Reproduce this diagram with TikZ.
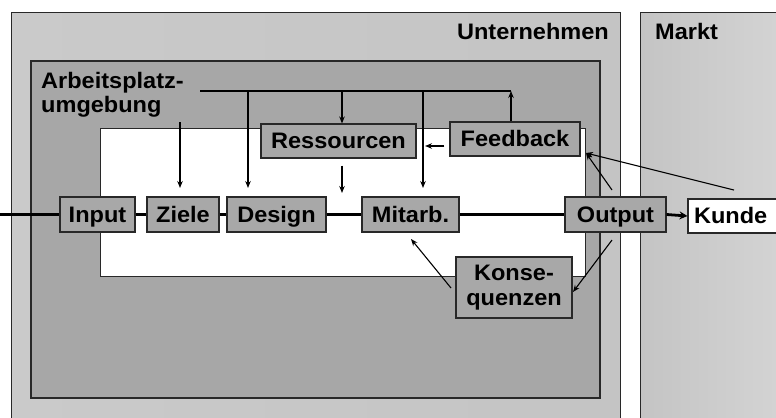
\documentclass[tikz,border=0pt]{standalone}
\usepackage{fontspec}
\setmainfont{Liberation Sans}[FakeStretch=1.05]
\usetikzlibrary{arrows.meta,calc}
\definecolor{outergray}{RGB}{202,202,202}
\definecolor{outergrayB}{RGB}{196,196,196}
\definecolor{midgray}{RGB}{167,167,167}
\definecolor{boxgray}{RGB}{168,168,168}
\definecolor{edgegray}{RGB}{40,40,40}
\tikzset{
  lbl/.style={font=\fontsize{22.5}{24}\selectfont\bfseries, inner sep=0pt},
  procbox/.style={draw=edgegray, line width=1.1pt, fill=boxgray, inner sep=0pt,
    minimum height=35bp, text height=17bp, text depth=2bp,
    font=\fontsize{22.5}{24}\selectfont\bfseries},
  arr/.style={draw=black, line width=1.1pt, -{Stealth[length=7pt,width=5.5pt]}},
  thinln/.style={draw=black, line width=1.1pt},
  mainln/.style={draw=black, line width=2.8pt}
}
\begin{document}
\begin{tikzpicture}[x=1bp,y=-1bp]
\useasboundingbox (0,0) rectangle (776,417);
\clip (0,0) rectangle (776,417);
\fill[white] (0,0) rectangle (776,417);
% outer boxes
\shade[left color=outergray, right color=outergrayB, draw=edgegray, line width=1pt] (11,12) rectangle (620,430);
\shade[left color=outergrayB, right color=outergray!80!white, draw=edgegray, line width=1pt] (640,12) rectangle (790,430);
% Arbeitsplatzumgebung
\fill[midgray, draw=edgegray, line width=1.3pt] (31,61) rectangle (600,398);
\fill[white, draw=edgegray, line width=1pt] (100,128) rectangle (585,276);
% labels
\node[lbl, anchor=base east] (unt) at (609,39) {Unternehmen};
\node[lbl, anchor=base west] (markt) at (655,39) {Markt};
\node[lbl, anchor=base west] (apl1) at (41,88) {Arbeitsplatz-};
\node[lbl, anchor=base west] (apl2) at (41,112) {umgebung};
% nodes
\node[procbox, minimum width=75bp] (input) at (97.5,214.5) {Input};
\node[procbox, minimum width=72bp] (ziele) at (183,214.5) {Ziele};
\node[procbox, minimum width=99bp] (design) at (276.5,214.5) {Design};
\node[procbox, minimum width=97bp] (mitarb) at (410.5,214.5) {Mitarb.};
\node[procbox, minimum width=101bp] (output) at (615.5,214.5) {Output};
\node[procbox, minimum width=92bp, minimum height=34bp, fill=white, text width=80bp, align=left] (kunde) at (734,216) {Kunde};
\node[procbox, minimum width=155bp, minimum height=34bp] (ress) at (338.5,141) {Ressourcen};
\node[procbox, minimum width=130bp, minimum height=34bp] (feed) at (515,139) {Feedback};
\node[procbox, minimum width=116bp, minimum height=61bp, align=center, text height=, text depth=,
  font=\fontsize{22.5}{25}\selectfont\bfseries] (kons) at (514,287.5) {Konse-\\quenzen};
% main line
\coordinate (start) at (0,214.5);
\draw[mainln] (start) -- (input.west);
\draw[mainln] (input.east) -- (ziele.west);
\draw[mainln] (ziele.east) -- (design.west);
\draw[mainln] (design.east) -- (mitarb.west);
\draw[mainln] (mitarb.east) -- (output.west);
\draw[mainln, -{Stealth[length=8pt,width=8pt]}] (output.east) -- (kunde.west);
% top feedback bus
\coordinate (busL) at (200,91);
\coordinate (busR) at (511,91);
\coordinate (bD) at (248,91);
\coordinate (bR) at (342,91);
\coordinate (bM) at (423,91);
\draw[thinln] (busL) -- (busR);
\draw[arr] (bD) -- (248,188);
\draw[arr] (bR) -- (ress.north -| bR);
\draw[arr] (bM) -- (423,188);
\draw[arr] (feed.north -| busR) -- (busR);
% Ziele arrow
\coordinate (zt) at (180,122);
\coordinate (zb) at (180,188);
\draw[arr] (zt) -- (zb);
% Ressourcen down arrow
\coordinate (rb) at (342,193);
\draw[arr] ($(ress.south -| rb)+(0,7)$) -- (rb);
% Feedback left arrow
\coordinate (fl) at (425,146);
\draw[arr] (feed.west |- fl) ++(-5,0) -- (fl);
% Kunde -> Feedback, Output -> Feedback
\coordinate (fbin) at (586,153);
\coordinate (kfrom) at (734,190);
\coordinate (ofrom) at (612,190);
\draw[arr] (kfrom) -- (fbin);
\draw[arr] (ofrom) -- (fbin);
% Output -> Konsequenzen
\coordinate (ob) at (612,240);
\coordinate (kin) at (573,292);
\draw[arr] (ob) -- (kin);
% Konsequenzen -> Mitarb.
\coordinate (kout) at (451,288);
\coordinate (min) at (411,239);
\draw[arr] (kout) -- (min);
\end{tikzpicture}
\end{document}
